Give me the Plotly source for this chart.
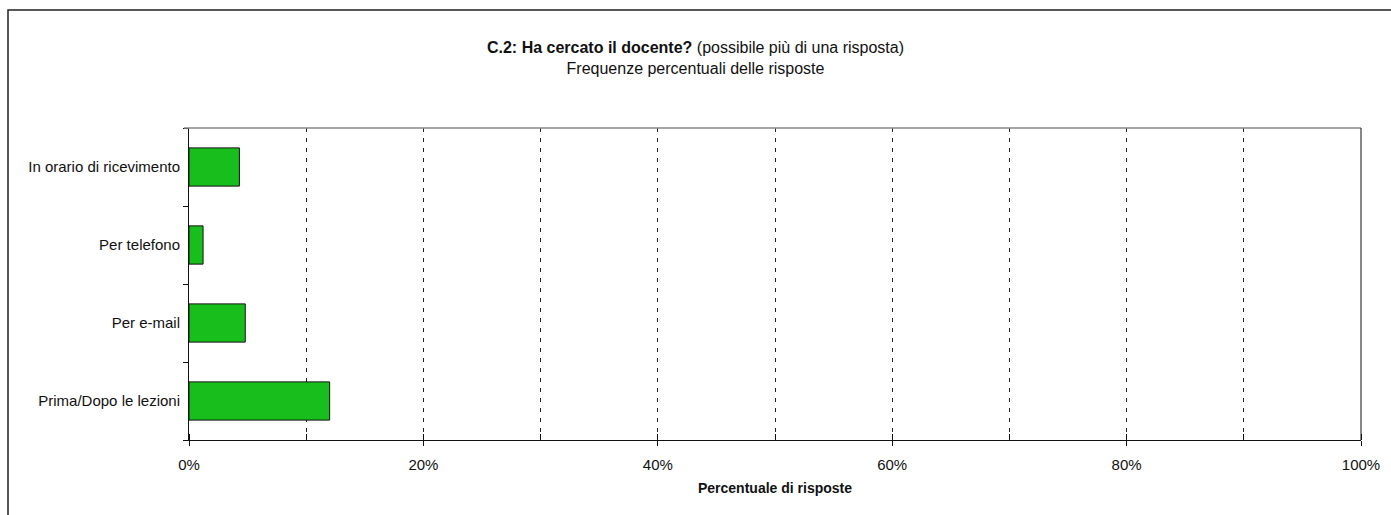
import plotly.graph_objects as go

categories = ["In orario di ricevimento", "Per telefono", "Per e-mail", "Prima/Dopo le lezioni"]
values = [4.3, 1.2, 4.8, 12.0]
x_tickvals = [0, 20, 40, 60, 80, 100]
x_ticktext = ["0%", "20%", "40%", "60%", "80%", "100%"]

FONT = "Liberation Sans, Arial, Helvetica, sans-serif"
FS = 15

fig = go.Figure()
fig.add_trace(go.Bar(
    y=categories,
    x=values,
    orientation="h",
    width=0.49,
    marker=dict(color="#18BE1B", line=dict(color="#111111", width=1)),
    hoverinfo="x+y",
))

W, H = 1391, 515
L, R, T, B = 189, 1391 - 1361, 128, 515 - 440
pw, ph = W - L - R, H - T - B

def px_x(p):
    return (p - L) / pw

def px_y(p):
    return (H - B - p) / ph

fig.update_layout(
    width=W, height=H,
    margin=dict(l=L, r=R, t=T, b=B, autoexpand=False),
    paper_bgcolor="white",
    plot_bgcolor="white",
    showlegend=False,
    font=dict(family=FONT, size=FS, color="#111111"),
    title=dict(
        text="<b>C.2: Ha cercato il docente?</b> (possibile più di una risposta)<br>Frequenze percentuali delle risposte",
        xref="container", x=0.5, xanchor="center",
        yref="container", y=1 - 53 / H, yanchor="middle",
        font=dict(family=FONT, size=16, color="#111111"),
    ),
    xaxis=dict(
        range=[0, 100],
        tickvals=x_tickvals,
        ticktext=x_ticktext,
        ticks="outside", ticklen=5, tickcolor="#111111", tickwidth=1,
        ticklabelstandoff=6,
        showline=True, linecolor="#111111", linewidth=1,
        showgrid=True, gridcolor="#222222", gridwidth=1, griddash="4px,6px",
        minor=dict(dtick=10, tick0=0, ticks="inside", ticklen=6, tickcolor="#111111",
                   showgrid=True, gridcolor="#222222", gridwidth=1, griddash="4px,6px"),
        zeroline=False,
        automargin=False,
        tickfont=dict(family=FONT, size=FS),
        title=dict(text="<b>Percentuale di risposte</b>", standoff=11,
                   font=dict(family=FONT, size=14)),
        fixedrange=True,
    ),
    yaxis=dict(
        categoryorder="array",
        categoryarray=categories[::-1],
        tickson="boundaries",
        ticks="outside", ticklen=5, tickcolor="#111111", tickwidth=1,
        ticklabelstandoff=5,
        showline=True, linecolor="#111111", linewidth=1,
        showgrid=False, zeroline=False,
        automargin=False,
        tickfont=dict(family=FONT, size=FS),
        fixedrange=True,
    ),
    shapes=[
        dict(type="line", xref="paper", yref="paper", x0=px_x(184), x1=1, y0=1, y1=1,
             line=dict(color="#888888", width=1.5)),
        dict(type="line", xref="paper", yref="paper", x0=1, x1=1, y0=0, y1=1,
             line=dict(color="#111111", width=1)),
        dict(type="path", xref="paper", yref="paper",
             path=f"M {px_x(1400)},{px_y(10)} L {px_x(8)},{px_y(10)} L {px_x(8)},{px_y(530)}",
             line=dict(color="#222222", width=1.5)),
    ],
)

fig.write_html(
    "out.html",
    config={"displayModeBar": False},
    post_script="document.body.style.margin='0';document.body.style.overflow='hidden';",
)
